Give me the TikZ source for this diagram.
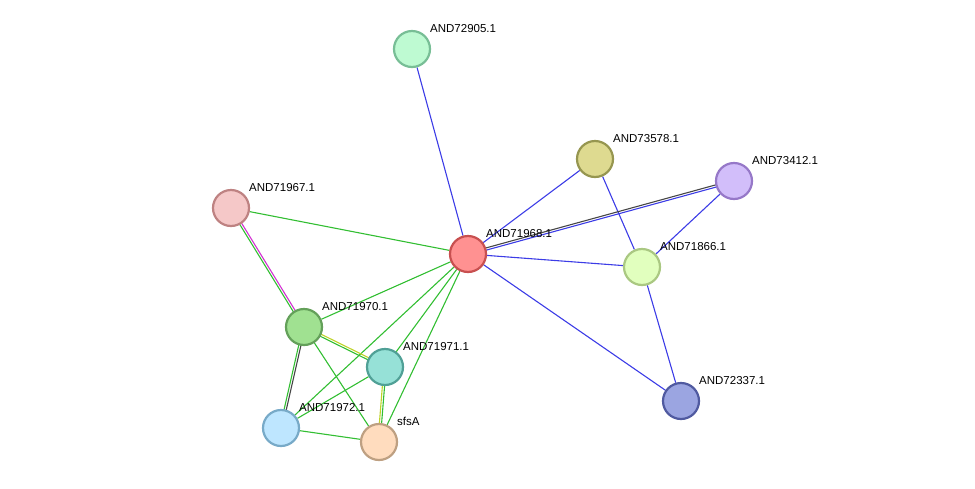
\documentclass[tikz,border=0pt]{standalone}
\usepackage{fontspec}
\setmainfont{Liberation Sans}
\usetikzlibrary{calc,backgrounds}
\definecolor{eb}{RGB}{60,60,230}
\definecolor{eg}{RGB}{50,190,50}
\definecolor{ey}{RGB}{190,210,40}
\definecolor{em}{RGB}{210,50,210}
\definecolor{ek}{RGB}{70,70,70}
\tikzset{
 prot/.style={circle,minimum size=36pt,inner sep=0pt,line width=2.2pt},
 lab/.style={font=\fontsize{11.5}{13}\selectfont,anchor=base west,inner sep=0pt},
 e/.style={line width=1.1pt}
}
\newcommand{\dbl}[4]{%
 \draw[e,#3] ($(#1)!1.1pt!90:(#2)$) -- ($(#2)!1.1pt!-90:(#1)$);
 \draw[e,#4] ($(#1)!1.1pt!-90:(#2)$) -- ($(#2)!1.1pt!90:(#1)$);}
\begin{document}
\begin{tikzpicture}[x=1pt,y=-1pt]
\useasboundingbox (0,0) rectangle (975,488);
\def\P#1#2#3#4#5#6{\definecolor{f#1}{RGB}{#4}\definecolor{d#1}{RGB}{#5}%
 \node[prot,fill=f#1,draw=d#1] (#1) at (#2,#3) {};
 \node[lab] at (#2+18,#3-17) {#6};}
\P{a}{412}{49}{190,250,210}{120,190,150}{AND72905.1}
\P{b}{595}{159}{222,218,144}{150,150,80}{AND73578.1}
\P{c}{734}{181}{210,190,250}{150,120,200}{AND73412.1}
\P{d}{231}{208}{245,200,200}{190,130,130}{AND71967.1}
\P{h}{468}{254}{255,145,145}{200,80,80}{AND71968.1}
\P{f}{642}{267}{225,255,190}{170,200,130}{AND71866.1}
\P{g}{304}{327}{160,225,145}{100,160,90}{AND71970.1}
\P{i}{385}{367}{150,225,215}{80,160,150}{AND71971.1}
\P{j}{681}{401}{155,165,225}{80,90,160}{AND72337.1}
\P{k}{281}{428}{190,230,255}{120,170,200}{AND71972.1}
\P{s}{379}{442}{255,220,190}{190,160,130}{sfsA}
\begin{scope}[on background layer]
\draw[e,eb] (a)--(h); \draw[e,eb] (b)--(h); \draw[e,eb] (b)--(f);
\dbl{c}{h}{eb}{ek}
\draw[e,eb] (c)--(f); \draw[e,eb] (h)--(f); \draw[e,eb] (h)--(j); \draw[e,eb] (f)--(j);
\draw[e,eg] (d)--(h);
\dbl{d}{g}{em}{eg}
\draw[e,eg] (h)--(g); \draw[e,eg] (h)--(i); \draw[e,eg] (h)--(k); \draw[e,eg] (h)--(s);
\dbl{g}{i}{ey}{eg}
\dbl{g}{k}{ek}{eg}
\draw[e,eg] (g)--(s); \draw[e,eg] (i)--(k);
\dbl{i}{s}{eg}{ey}
\draw[e,eg] (k)--(s);
\end{scope}
\end{tikzpicture}
\end{document}
